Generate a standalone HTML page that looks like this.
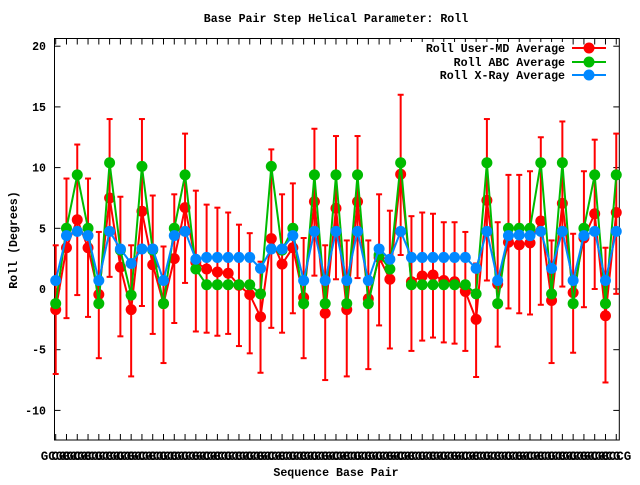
<!DOCTYPE html>
<html><head><meta charset="utf-8"><style>
body{margin:0;background:#fff}
svg text{font-family:"Liberation Mono","DejaVu Sans Mono",monospace;font-weight:bold;font-size:11.6px;fill:#000}
svg text.xl{font-size:12.5px}
</style></head><body>
<svg id="s" width="640" height="480" xmlns="http://www.w3.org/2000/svg"></svg>
<script>
var red=[-1.7,3.4,5.7,3.4,-0.45,7.5,1.8,-1.7,6.4,2.0,-1.2,2.5,6.7,2.2,1.65,1.4,1.3,0.3,-0.45,-2.3,4.15,2.05,3.4,-0.7,7.2,-2.0,6.65,-1.7,7.2,-0.8,2.6,0.8,9.45,0.6,1.07,1.15,0.7,0.6,-0.2,-2.5,7.3,0.4,3.85,3.65,3.8,5.6,-0.95,7.05,-0.3,4.2,6.2,-2.2,6.3];
var green=[-1.2,5,9.4,5,-1.2,10.4,3.2,-0.5,10.1,3.2,-1.2,5,9.4,1.65,0.35,0.35,0.35,0.35,0.35,-0.4,10.1,3.2,5,-1.2,9.4,-1.2,9.4,-1.2,9.4,-1.2,2.8,1.65,10.4,0.35,0.35,0.35,0.35,0.35,0.35,-0.4,10.4,-1.2,5,5,5,10.4,-0.4,10.4,-1.2,5,9.4,-1.2,9.4];
var blue=[0.7,4.4,4.75,4.4,0.7,4.75,3.3,2.1,3.3,3.3,0.7,4.4,4.75,2.45,2.6,2.6,2.6,2.6,2.6,1.7,3.3,3.3,4.4,0.7,4.75,0.7,4.75,0.7,4.75,0.7,3.3,2.45,4.75,2.6,2.6,2.6,2.6,2.6,2.6,1.7,4.75,0.7,4.4,4.45,4.4,4.75,1.7,4.75,0.7,4.4,4.75,0.7,4.75];
var et=[3.6,9.1,11.9,9.1,4.7,14,7.6,3.6,14,7.7,3.5,7.8,12.8,8.1,6.95,6.7,6.3,5.3,4.6,2.25,11.5,7.8,8.7,4.2,13.2,3.6,12.6,4.0,12.6,4.0,7.8,6.45,16,6.0,6.3,6.2,5.5,5.5,4.7,2.1,14,5.5,9.4,9.4,9.7,12.5,4.0,13.8,4.55,9.7,12.3,3.4,12.8];
var eb=[-7.0,-2.4,-0.5,-2.3,-5.7,1.0,-3.9,-7.2,-1.4,-3.7,-6.1,-2.8,0.5,-3.5,-3.6,-3.85,-3.7,-4.7,-5.3,-6.9,-3.2,-3.6,-2.0,-5.7,1.1,-7.5,0.8,-7.2,0.9,-6.6,-3.0,-4.9,2.8,-5.1,-4.25,-4.0,-4.4,-4.5,-5.1,-7.25,0.7,-4.75,-1.6,-2.0,-2.1,-1.3,-6.1,0.2,-5.25,-1.5,0,-7.7,-0.4];
var L=54.5,R=619.3,T=38.5,B=440;
function X(i){return 55.7+i*10.78}
function Y(v){return 289-v*12.14}
var h='';
var labs=['GCCG','CGGC','GCGC','CGCG','GGCC','CCGG'];
h+='<rect x="'+L+'" y="'+T+'" width="'+(R-L)+'" height="'+(B-T)+'" fill="none" stroke="#000" stroke-width="1"/>';
for(var i=0;i<53;i++){var x=X(i);h+='<line x1="'+x+'" y1="'+B+'" x2="'+x+'" y2="'+(B-6)+'" stroke="#000"/><line x1="'+x+'" y1="'+T+'" x2="'+x+'" y2="'+(T+6)+'" stroke="#000"/>';
 var t=(i==0)?'GCGC':(i==52?'GCCG':labs[i%6]);
 h+='<text class="xl" x="'+x+'" y="460" text-anchor="middle">'+t+'</text>';}
[20,15,10,5,0,-5,-10].forEach(function(v){var y=Y(v);h+='<line x1="'+L+'" y1="'+y+'" x2="'+(L+6)+'" y2="'+y+'" stroke="#000"/><line x1="'+R+'" y1="'+y+'" x2="'+(R-6)+'" y2="'+y+'" stroke="#000"/><text x="46" y="'+(y+4)+'" text-anchor="end">'+v+'</text>';});
h+='<text x="336" y="22" text-anchor="middle">Base Pair Step Helical Parameter: Roll</text>';
h+='<text x="336" y="476" text-anchor="middle">Sequence Base Pair</text>';
h+='<text transform="translate(17,240) rotate(-90)" text-anchor="middle">Roll (Degrees)</text>';
for(var i=0;i<53;i++){var x=X(i);h+='<g stroke="#f00" stroke-width="2"><line x1="'+x+'" y1="'+Y(et[i])+'" x2="'+x+'" y2="'+Y(eb[i])+'"/><line x1="'+(x-3)+'" y1="'+Y(et[i])+'" x2="'+(x+3)+'" y2="'+Y(et[i])+'"/><line x1="'+(x-3)+'" y1="'+Y(eb[i])+'" x2="'+(x+3)+'" y2="'+Y(eb[i])+'"/></g>';}
function series(d,c){var p=d.map(function(v,i){return X(i).toFixed(1)+','+Y(v).toFixed(1)}).join(' ');
 var s='<polyline points="'+p+'" fill="none" stroke="'+c+'" stroke-width="2"/>';
 d.forEach(function(v,i){s+='<circle cx="'+X(i)+'" cy="'+Y(v)+'" r="5.5" fill="'+c+'"/>'});return s;}
h+=series(red,'#f00')+series(green,'#0b0')+series(blue,'#08f');
var lg=[['Roll User-MD Average','#f00',48],['Roll ABC Average','#0b0',62],['Roll X-Ray Average','#08f',75]];
lg.forEach(function(l){h+='<rect x="400" y="'+(l[2]-6)+'" width="168" height="12" fill="#fff"/><text x="565" y="'+(l[2]+4)+'" text-anchor="end">'+l[0]+'</text><line x1="572" y1="'+l[2]+'" x2="606" y2="'+l[2]+'" stroke="'+l[1]+'" stroke-width="2"/><circle cx="589" cy="'+l[2]+'" r="5.5" fill="'+l[1]+'"/>';});
document.getElementById('s').innerHTML=h;
</script>
</body></html>
